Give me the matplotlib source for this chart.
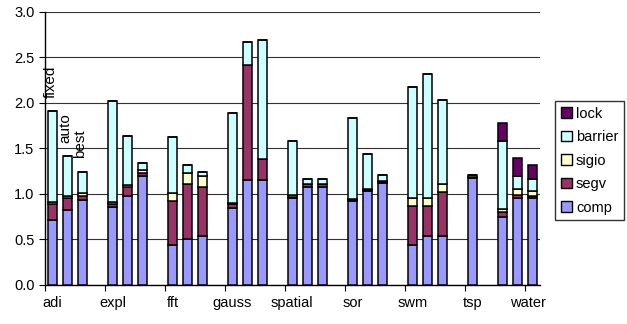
import matplotlib.pyplot as plt
from matplotlib.patches import Patch

plt.rcParams["font.family"] = ["Liberation Sans", "DejaVu Sans"]

GROUPS = ["adi", "expl", "fft", "gauss", "spatial", "sor", "swm", "tsp", "water"]
VARIANTS = ["fixed", "auto", "best"]

# one inner list per group, one value per bar (fixed / auto / best)
comp = [[0.71, 0.82, 0.93], [0.86, 0.98, 1.20], [0.44, 0.50, 0.54],
        [0.85, 1.15, 1.15], [0.96, 1.08, 1.08], [0.92, 1.03, 1.12],
        [0.44, 0.54, 0.54], [1.17], [0.75, 0.95, 0.95]]
segv = [[0.18, 0.13, 0.045], [0.026, 0.10, 0.03], [0.48, 0.61, 0.54],
        [0.04, 1.27, 0.23], [0.01, 0.03, 0.03], [0.01, 0.01, 0.01],
        [0.43, 0.33, 0.48], [0.02], [0.055, 0.04, 0.025]]
sigio = [[0.02, 0.03, 0.035], [0.03, 0.02, 0.035], [0.09, 0.12, 0.12],
         [0.01, 0.0, 0.0], [0.02, 0.0, 0.0], [0.01, 0.01, 0.01],
         [0.08, 0.08, 0.09], [0.02], [0.035, 0.065, 0.055]]
barrier = [[1.00, 0.44, 0.23], [1.10, 0.54, 0.07], [0.62, 0.09, 0.045],
           [0.99, 0.25, 1.31], [0.59, 0.05, 0.05], [0.89, 0.39, 0.07],
           [1.23, 1.37, 0.92], [0.0], [0.74, 0.145, 0.13]]
lock = [[0, 0, 0], [0, 0, 0], [0, 0, 0], [0, 0, 0], [0, 0, 0], [0, 0, 0],
        [0, 0, 0], [0.0], [0.195, 0.19, 0.16]]

SERIES = [("comp", comp, "#9999FF"), ("segv", segv, "#993366"),
          ("sigio", sigio, "#FFFFCC"), ("barrier", barrier, "#CCFFFF"),
          ("lock", lock, "#660066")]

fig = plt.figure(figsize=(6.27, 3.24), dpi=100)
ax = fig.add_axes([0.0718, 0.1204, 0.789, 0.843])

# slot layout: bars of a group side by side, one empty slot between groups
xs, starts = [], []
slot = 0
for g, vals in zip(GROUPS, comp):
    starts.append(slot)
    xs.append(list(range(slot, slot + len(vals))))
    slot += len(vals) + 1

for gi in range(len(GROUPS)):
    bottom = [0.0] * len(xs[gi])
    for name, data, color in SERIES:
        vals = data[gi]
        ax.bar(xs[gi], vals, width=0.6, bottom=bottom, color=color,
               edgecolor="black", linewidth=1.1, zorder=3)
        bottom = [b + v for b, v in zip(bottom, vals)]

# variant labels above first group
label_y = [2.05, 1.56, 1.40]
for x, txt, y in zip(xs[0], VARIANTS, label_y):
    ax.text(x - 0.15, y, txt, rotation=90, ha="center", va="bottom",
            fontsize=11)

ax.set_xlim(-0.5, 32.5)
ax.set_ylim(0, 3.0)
ax.set_yticks([0, 0.5, 1.0, 1.5, 2.0, 2.5, 3.0])
ax.set_yticklabels([f"{v:.1f}" for v in ax.get_yticks()], fontsize=10.5)
ax.yaxis.grid(True, color="#333333", linewidth=0.8, zorder=0)
ax.set_axisbelow(True)

ax.set_xticks([s - 0.5 for s in range(0, 33, 4)])
ax.set_xticklabels([])
lab_x = [starts[i] for i in range(len(GROUPS))]
lab_x[-1] = 31.7
ax.set_xticks(lab_x, minor=True)
ax.set_xticklabels(GROUPS, minor=True, fontsize=10.5)
ax.tick_params(axis="x", which="minor", length=0, pad=8)
ax.tick_params(axis="x", which="major", length=4, direction="out")
ax.tick_params(axis="y", length=4, direction="out")

for side in ("top", "right"):
    ax.spines[side].set_visible(False)
ax.spines["left"].set_linewidth(1.0)
ax.spines["bottom"].set_linewidth(1.0)

handles = [Patch(facecolor=c, edgecolor="black", label=n)
           for n, _, c in SERIES][::-1]
fig.legend(handles=handles, loc="center",
           bbox_to_anchor=(0.8836, 0.327, 0.113, 0.355),
           fontsize=10.5, frameon=True, fancybox=False, edgecolor="black",
           handlelength=0.75, handleheight=0.75, handletextpad=0.3,
           labelspacing=0.65, borderpad=0.4, borderaxespad=0)

fig.savefig("out.png", dpi=100)
